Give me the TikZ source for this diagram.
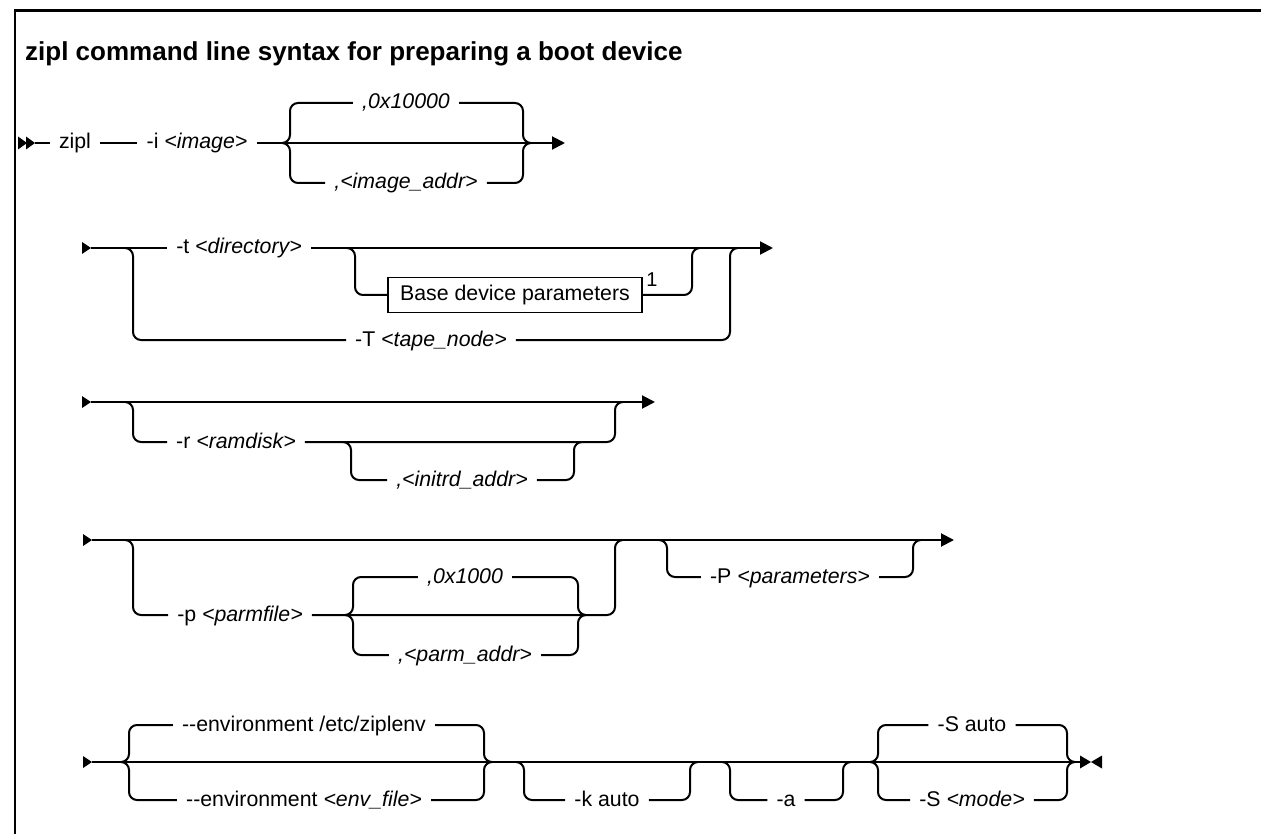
\documentclass[tikz,border=0pt]{standalone}
\usepackage{fontspec}
\setmainfont{Liberation Sans}
\usetikzlibrary{arrows.meta}

% placeholder (variable) text
\newcommand\ph[1]{\textit{#1}}

% a branch leaving the rail at #1, passing label node #2, rejoining at #3
\newcommand\railbranch[3]{%
  \draw[rail] ([xshift=-8pt]#1) -- (#1) -- (#1 |- #2.west) -- (#2.west);
  \draw[rail] (#2.east) -- (#3 |- #2.east) -- (#3) -- ([xshift=8pt]#3);
}
% continuation mark at the start of a rail, #1 is its tip
\newcommand\entrymark[1]{%
  \fill ([xshift=-9pt,yshift=6pt]#1) -- (#1) -- ([xshift=-9pt,yshift=-6pt]#1) -- cycle;
}

\tikzset{
  rail/.style={line width=2pt, rounded corners=8pt},
  lbl/.style={inner xsep=9pt, inner ysep=0pt, text height=12pt, text depth=0pt},
  railtip/.style={-{Triangle[length=13pt,width=13pt]}},
  parmbox/.style={draw, line width=1.5pt, minimum width=254pt, minimum height=35pt, inner sep=0pt},
}

\begin{document}
\begin{tikzpicture}[x=1pt, y=-1pt, font=\fontsize{21.3}{25}\selectfont]
\useasboundingbox (0,0) rectangle (1261,834);
\fill[white] (0,0) rectangle (1261,834);

% frame
\draw[line width=2.5pt] (15,834) -- (15,10.5) -- (1261,10.5);

% heading
\node[anchor=base west, inner sep=0pt, font=\bfseries\fontsize{26}{31}\selectfont] (title) at (25,61)
  {zipl command line syntax for preparing a boot device};

% ---------- row 1 ----------
\coordinate (r1tip) at (35,143);
\fill (18,136.5) -- (27,143) -- (18,149.5) -- cycle;
\fill (26,136.5) -- (35,143) -- (26,149.5) -- cycle;
\node[lbl] (zipl) at (75,143) {zipl};
\node[lbl] (iopt) at (197,143) {-i \ph{<image>}};
\coordinate (b1L) at (290,143);
\coordinate (b1R) at (523,143);
\node[lbl] (imgdef) at (406,103) {\ph{,0x10000}};
\node[lbl] (imgaddr) at (406,183) {\ph{,<image\_addr>}};
\coordinate (r1end) at (565,143);
\draw[rail] (r1tip) -- (zipl.west);
\draw[rail] (zipl.east) -- (iopt.west);
\draw[rail,railtip] (iopt.east) -- (r1end);
\railbranch{b1L}{imgdef}{b1R}
\railbranch{b1L}{imgaddr}{b1R}

% ---------- row 2 ----------
\coordinate (r2tip) at (91,248);
\entrymark{r2tip}
\coordinate (o2L) at (133,248);
\coordinate (o2R) at (730,248);
\node[lbl] (tdir) at (239,248) {-t \ph{<directory>}};
\coordinate (n2L) at (355,248);
\coordinate (n2R) at (692,248);
\node[parmbox] (bdp) at (515,295) {Base device parameters};
\node[inner sep=0pt, font=\fontsize{20}{22}\selectfont] (fn1) at (652,280) {1};
\node[lbl] (tape) at (431,340) {-T \ph{<tape\_node>}};
\coordinate (r2end) at (773,248);
\draw[rail] (r2tip) -- (tdir.west);
\draw[rail,railtip] (tdir.east) -- (r2end);
\railbranch{n2L}{bdp}{n2R}
\railbranch{o2L}{tape}{o2R}

% ---------- row 3 ----------
\coordinate (r3tip) at (91,402);
\entrymark{r3tip}
\coordinate (o3L) at (133,402);
\coordinate (o3R) at (615,402);
\node[lbl] (rd) at (236,442) {-r \ph{<ramdisk>}};
\coordinate (n3L) at (351,442);
\coordinate (n3R) at (574,442);
\node[lbl] (initrd) at (462,480) {\ph{,<initrd\_addr>}};
\coordinate (r3end) at (655,402);
\draw[rail,railtip] (r3tip) -- (r3end);
\railbranch{o3L}{rd}{o3R}
\railbranch{n3L}{initrd}{n3R}

% ---------- row 4 ----------
\coordinate (r4tip) at (92,540);
\entrymark{r4tip}
\coordinate (o4L) at (133,540);
\coordinate (o4R) at (615,540);
\node[lbl] (pf) at (240,615) {-p \ph{<parmfile>}};
\coordinate (n4L) at (353,615);
\coordinate (n4R) at (578,615);
\node[lbl] (pdef) at (465,577) {\ph{,0x1000}};
\node[lbl] (paddr) at (465,655) {\ph{,<parm\_addr>}};
\coordinate (q4L) at (667,540);
\coordinate (q4R) at (913,540);
\node[lbl] (parms) at (790,577) {-P \ph{<parameters>}};
\coordinate (r4end) at (954,540);
\draw[rail,railtip] (r4tip) -- (r4end);
\railbranch{o4L}{pf}{o4R}
\railbranch{n4L}{pdef}{n4R}
\railbranch{n4L}{paddr}{n4R}
\railbranch{q4L}{parms}{q4R}

% ---------- row 5 ----------
\coordinate (r5tip) at (92,762);
\entrymark{r5tip}
\coordinate (e5L) at (129,762);
\coordinate (e5R) at (484,762);
\node[lbl] (envdef) at (304,725) {-{}-environment /etc/ziplenv};
\node[lbl] (envfile) at (304,800) {-{}-environment \ph{<env\_file>}};
\coordinate (k5L) at (524,762);
\coordinate (k5R) at (690,762);
\node[lbl] (kauto) at (607,800) {-k auto};
\coordinate (a5L) at (730,762);
\coordinate (a5R) at (843,762);
\node[lbl] (aopt) at (786,800) {-a};
\coordinate (s5L) at (878,762);
\coordinate (s5R) at (1067,762);
\node[lbl] (sauto) at (972,725) {-S auto};
\node[lbl] (smode) at (972,800) {-S \ph{<mode>}};
\coordinate (fin) at (1091,762);
\coordinate (finL) at (1080,762);
\draw[rail] (r5tip) -- (finL);
\railbranch{e5L}{envdef}{e5R}
\railbranch{e5L}{envfile}{e5R}
\railbranch{k5L}{kauto}{k5R}
\railbranch{a5L}{aopt}{a5R}
\railbranch{s5L}{sauto}{s5R}
\railbranch{s5L}{smode}{s5R}
% end-of-statement mark
\fill ([xshift=-11pt,yshift=6.5pt]fin) -- (fin) -- ([xshift=-11pt,yshift=-6.5pt]fin) -- cycle;
\fill ([xshift=11pt,yshift=6.5pt]fin) -- (fin) -- ([xshift=11pt,yshift=-6.5pt]fin) -- cycle;
\end{tikzpicture}
\end{document}
